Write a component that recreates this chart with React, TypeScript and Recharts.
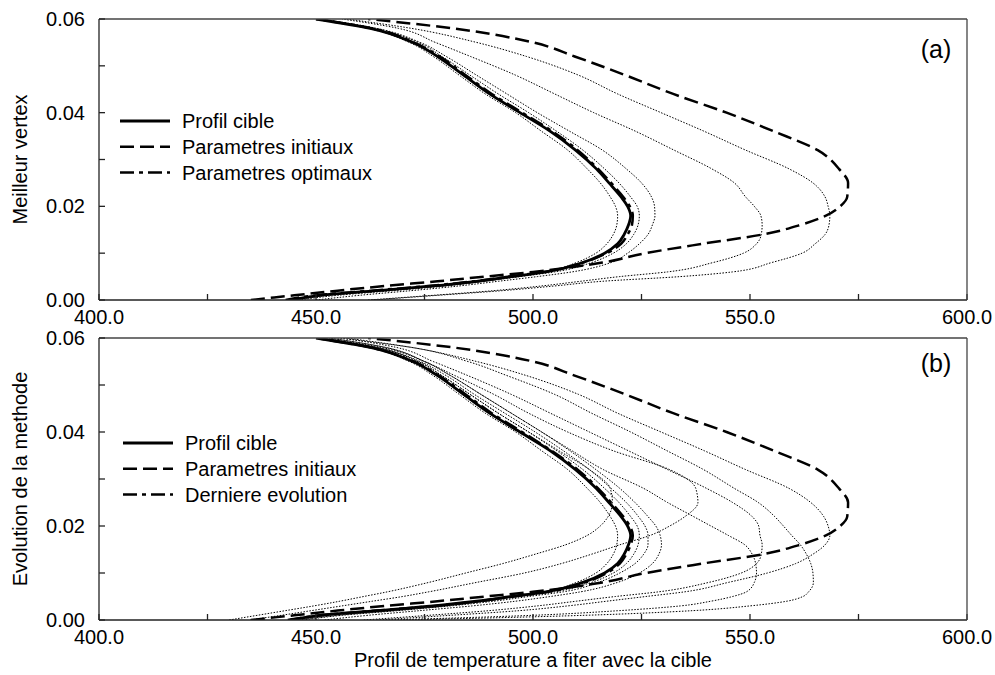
import { LineChart, Line, XAxis, YAxis, Legend } from 'recharts';

// Depth levels shared by every profile (y axis)
const Y_LEVELS = [
  0, 0.001, 0.002, 0.003, 0.004, 0.005, 0.006, 0.008, 0.01, 0.012, 0.014, 0.016, 0.018,
  0.02, 0.022, 0.025, 0.028, 0.032, 0.036, 0.04, 0.044, 0.048, 0.052, 0.055, 0.058, 0.06,
];

// Temperature at each level
const TARGET = [444, 451, 464, 477, 487, 495, 503, 511.5, 516.5, 519.5, 521, 522, 522.5, 521.8, 520.3, 517.5, 514.6, 509.8, 504, 497, 490, 484, 478, 472.3, 462.5, 450];
const INITIAL = [435, 445, 455, 466, 478, 489, 500, 516, 526, 539, 553, 561.5, 567.5, 570.8, 572.4, 572.6, 570.5, 565.6, 555.5, 544.6, 532.3, 521.3, 509.6, 500, 481.5, 462];
const OPTIMAL = [443, 450, 463, 476, 486.5, 494.5, 502.5, 511.5, 517, 520.3, 521.8, 522.8, 523, 522.3, 520.8, 518, 515, 510.3, 504.5, 497.5, 490.5, 484.5, 478.5, 472.5, 463, 450];
const LAST_STEP = [443.5, 451, 464, 477.5, 487.5, 495.5, 503.5, 512, 517, 520, 521.5, 522.5, 523, 522.3, 520.8, 518, 515, 510.3, 504.3, 497.5, 490.5, 484.5, 478.3, 472.5, 462.5, 450];

// Intermediate vertices, panel (a)
const VERTEX_1 = [463, 478, 493, 505, 516, 534, 546, 555, 562, 565, 567.3, 568.2, 568.4, 568, 567.3, 564.5, 559, 549, 539.5, 529.5, 519.5, 510.5, 498.5, 487, 472, 457];
const VERTEX_2 = [462, 477, 491, 502, 511, 520, 531, 541.5, 548.5, 551.5, 552.6, 552.8, 552.5, 551, 549, 546.4, 541.2, 532.5, 523.7, 514, 505, 496, 485.6, 477.5, 469, 456];
const VERTEX_3 = [450, 460, 472, 483, 492, 501, 509, 518, 521.8, 524.5, 526.5, 527.5, 528.1, 528, 527.3, 525, 521.5, 516, 508.5, 501, 494, 487, 480, 474, 464, 451];
const VERTEX_4 = [446, 455, 468, 480, 489, 496, 503, 510, 514.5, 517, 518.5, 519.3, 519.5, 519, 517.8, 515.5, 512.5, 508, 502, 496, 489, 483, 477, 471.5, 462, 450];
const VERTEX_5 = [445, 453, 466, 479, 489, 497, 505, 513.5, 518.5, 521.5, 523.2, 524.2, 524.5, 524, 522.5, 519.8, 516.5, 511.5, 505.5, 499, 492, 485.5, 479, 473.5, 463.5, 450];

// Successive iterations, panel (b)
const STEP_1 = [464, 481, 497, 508, 517, 526, 535, 545, 554, 560.5, 564.5, 567.3, 568.4, 568, 567, 564, 559, 549, 539.5, 529.5, 519.5, 510.5, 498.5, 487, 472, 457];
const STEP_2 = [470, 512, 537, 550, 558.5, 562.2, 563.5, 564.6, 564.5, 564, 563, 561.6, 559.6, 557.7, 555.7, 551.9, 546.4, 539.3, 530.9, 522.5, 513.5, 505, 494, 485, 472, 455];
const STEP_3 = [461, 476, 490, 501, 510, 519, 529, 540.5, 548, 551.5, 552.6, 552.8, 552.3, 552, 550.5, 546, 540, 531, 522, 513, 504, 495, 485, 477, 468.5, 456];
const STEP_4 = [466, 500, 520, 534, 541, 546, 549.2, 551, 551.5, 551.3, 550.5, 548.8, 545, 541, 537, 531, 525.5, 516.2, 509, 502, 495, 488, 481, 475, 466, 453];
const STEP_5 = [434.8, 442, 449, 456, 463, 470, 476, 487, 498, 506.5, 513.5, 520, 527, 531.5, 535, 538, 537.5, 531.5, 518.5, 508, 499, 491, 482, 475, 466, 453];
const STEP_6 = [430, 436.5, 443, 449.5, 455.5, 461, 466.5, 476, 484.5, 493, 500.5, 507.5, 512.5, 515.5, 517.3, 518.3, 517.8, 513, 506, 499, 492, 485.5, 479, 473.5, 464, 451];
const STEP_7 = [446, 455, 468, 480, 489, 496, 503, 510, 514.5, 517, 518.5, 519.3, 519.5, 519, 517.8, 515.5, 512.5, 508, 502, 496, 489, 483, 477, 471.5, 462, 450];
const STEP_8 = [445, 453, 466, 479, 489, 497, 505, 513.5, 518.5, 521.5, 523.2, 524.2, 524.5, 524, 522.5, 519.8, 516.5, 511.5, 505.5, 499, 492, 485.5, 479, 473.5, 463.5, 450];
const STEP_9 = [447, 456, 469, 481, 491, 499, 507, 515, 520, 523.5, 525.5, 526.5, 526.5, 525.8, 524.3, 521.5, 518, 513, 507, 500.5, 493.5, 486.5, 480, 474, 464, 450.5];
const STEP_10 = [452, 462, 474, 486, 496, 504, 511, 519.5, 524.5, 527.5, 529, 529.6, 529.3, 528.3, 526.5, 523.5, 520, 514.5, 508.5, 502, 495, 488, 481, 475, 465, 451];

const X_TICKS = [400, 425, 450, 475, 500, 525, 550, 575, 600];
const Y_TICKS = [0, 0.01, 0.02, 0.03, 0.04, 0.05, 0.06];

type LineStyle = 'solid' | 'dashed' | 'dashdot' | 'dotted';

const STYLES: Record<LineStyle, { strokeWidth: number; strokeDasharray?: string }> = {
  solid: { strokeWidth: 2.8 },
  dashed: { strokeWidth: 2.5, strokeDasharray: '14 6' },
  dashdot: { strokeWidth: 2.5, strokeDasharray: '14 5 4 5' },
  dotted: { strokeWidth: 1, strokeDasharray: '1.5 1.5' },
};

interface Curve {
  name: string;
  temps: number[];
  style: LineStyle;
}

const dotted = (list: number[][], prefix: string): Curve[] =>
  list.map((temps, i) => ({ name: `${prefix}${i + 1}`, temps, style: 'dotted' }));

const CURVES_A: Curve[] = [
  ...dotted([VERTEX_1, VERTEX_2, VERTEX_3, VERTEX_4, VERTEX_5], 'vertex'),
  { name: 'Parametres initiaux', temps: INITIAL, style: 'dashed' },
  { name: 'Profil cible', temps: TARGET, style: 'solid' },
  { name: 'Parametres optimaux', temps: OPTIMAL, style: 'dashdot' },
];

const CURVES_B: Curve[] = [
  ...dotted([STEP_1, STEP_2, STEP_3, STEP_4, STEP_5, STEP_6, STEP_7, STEP_8, STEP_9, STEP_10], 'step'),
  { name: 'Parametres initiaux', temps: INITIAL, style: 'dashed' },
  { name: 'Profil cible', temps: TARGET, style: 'solid' },
  { name: 'Derniere evolution', temps: LAST_STEP, style: 'dashdot' },
];

const LEGEND_A = [
  { label: 'Profil cible', style: 'solid' as LineStyle },
  { label: 'Parametres initiaux', style: 'dashed' as LineStyle },
  { label: 'Parametres optimaux', style: 'dashdot' as LineStyle },
];
const LEGEND_B = [
  { label: 'Profil cible', style: 'solid' as LineStyle },
  { label: 'Parametres initiaux', style: 'dashed' as LineStyle },
  { label: 'Derniere evolution', style: 'dashdot' as LineStyle },
];

const FONT = '"Liberation Sans", Arial, Helvetica, sans-serif';
const AXIS_COLOR = '#222';

const toPoints = (temps: number[]) => temps.map((t, i) => ({ t, z: Y_LEVELS[i] }));

const formatX = (v: number) => (v % 50 === 0 ? v.toFixed(1) : '');
const formatY = (v: number) => (Math.round(v * 100) % 2 === 0 ? v.toFixed(2) : '');

function LegendBox({ items }: { items: { label: string; style: LineStyle }[] }) {
  return (
    <svg width={320} height={80} style={{ display: 'block' }}>
      {items.map((it, i) => (
        <g key={it.label} transform={`translate(0, ${12 + i * 25.8})`}>
          <line x1={2} x2={52} y1={0} y2={0} stroke="#000" {...STYLES[it.style]} />
          <text x={64} y={7.2} fontSize={20} fontFamily={FONT} fill="#000">
            {it.label}
          </text>
        </g>
      ))}
    </svg>
  );
}

interface PanelProps {
  top: number;
  height: number;
  marginBottom: number;
  yTitle: string;
  xTitle?: string;
  tag: string;
  tagTop: number;
  curves: Curve[];
  legend: { label: string; style: LineStyle }[];
  legendPos: { left: number; top: number };
}

function Panel({ top, height, marginBottom, yTitle, xTitle, tag, tagTop, curves, legend, legendPos }: PanelProps) {
  return (
    <div style={{ position: 'absolute', left: 0, top, width: 995, height }}>
      <LineChart
        width={995}
        height={height}
        margin={{ top: 18, right: 27, bottom: marginBottom, left: 0 }}
        style={{ fontFamily: FONT }}
      >
        <XAxis
          xAxisId="bottom"
          type="number"
          dataKey="t"
          domain={[400, 600]}
          allowDataOverflow
          ticks={X_TICKS}
          interval={0}
          tickFormatter={formatX}
          tickSize={-6}
          tickMargin={16}
          height={30}
          stroke={AXIS_COLOR}
          strokeWidth={1.3}
          tick={{ fontSize: 20, fill: '#000' }}
          label={
            xTitle
              ? { value: xTitle, position: 'bottom', offset: 3, fontSize: 20, fill: '#000' }
              : undefined
          }
        />
        <XAxis
          xAxisId="top"
          orientation="top"
          type="number"
          dataKey="t"
          domain={[400, 600]}
          allowDataOverflow
          ticks={X_TICKS}
          interval={0}
          tickSize={-6}
          height={1}
          tick={false}
          stroke="#444"
          strokeWidth={1.3}
        />
        <YAxis
          yAxisId="left"
          type="number"
          domain={[0, 0.06]}
          allowDataOverflow
          ticks={Y_TICKS}
          interval={0}
          tickFormatter={formatY}
          tickSize={-6}
          tickMargin={20}
          width={99}
          stroke={AXIS_COLOR}
          strokeWidth={1.3}
          tick={{ fontSize: 20, fill: '#000' }}
          label={{
            value: yTitle,
            angle: -90,
            position: 'insideLeft',
            offset: 19.5,
            fontSize: 20,
            fill: '#000',
            style: { textAnchor: 'middle' },
          }}
        />
        <YAxis
          yAxisId="right"
          orientation="right"
          type="number"
          domain={[0, 0.06]}
          allowDataOverflow
          ticks={Y_TICKS}
          interval={0}
          tickSize={-6}
          width={1}
          tick={false}
          stroke="#444"
          strokeWidth={1.3}
        />
        <Legend
          layout="horizontal"
          verticalAlign="middle"
          align="center"
          wrapperStyle={{ left: legendPos.left, top: legendPos.top, width: 320, height: 80 }}
          content={() => <LegendBox items={legend} />}
        />
        {curves.map((c) => (
          <Line
            key={c.name}
            xAxisId="bottom"
            yAxisId="left"
            data={toPoints(c.temps)}
            dataKey="z"
            name={c.name}
            type="monotoneY"
            stroke="#000"
            {...STYLES[c.style]}
            dot={false}
            activeDot={false}
            legendType="none"
            isAnimationActive={false}
          />
        ))}
      </LineChart>
      <svg width={60} height={40} style={{ position: 'absolute', left: 906, top: tagTop }}>
        <text x={30} y={32} textAnchor="middle" fontSize={25} fontFamily={FONT} fill="#000">
          {tag}
        </text>
      </svg>
    </div>
  );
}

export default function App() {
  return (
    <div style={{ position: 'absolute', left: 0, top: 0, width: 995, height: 675, background: '#fff', fontFamily: FONT }}>
      <Panel
        top={0}
        height={330}
        marginBottom={0}
        yTitle="Meilleur vertex"
        tag="(a)"
        tagTop={26}
        curves={CURVES_A}
        legend={LEGEND_A}
        legendPos={{ left: 118, top: 109 }}
      />
      <Panel
        top={319}
        height={356}
        marginBottom={25}
        yTitle="Evolution de la methode"
        xTitle="Profil de temperature a fiter avec la cible"
        tag="(b)"
        tagTop={21}
        curves={CURVES_B}
        legend={LEGEND_B}
        legendPos={{ left: 121, top: 112 }}
      />
    </div>
  );
}
